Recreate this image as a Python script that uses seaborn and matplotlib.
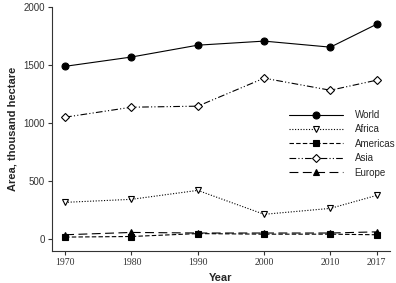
import matplotlib
matplotlib.use("Agg")
import matplotlib.pyplot as plt
import pandas as pd
import seaborn as sns

# data
years = [1970, 1980, 1990, 2000, 2010, 2017]
world = [1490, 1570, 1672, 1707, 1655, 1853]
africa = [319, 345, 422, 216, 267, 379]
americas = [20, 25, 50, 45, 45, 40]
asia = [1052, 1138, 1147, 1388, 1284, 1371]
europe = [40, 60, 55, 55, 55, 65]

series = {"World": world, "Africa": africa, "Americas": americas,
          "Asia": asia, "Europe": europe}
styles = {
    "World": dict(linestyle="-", marker="o", markerfacecolor="black"),
    "Africa": dict(linestyle=(0, (1, 1.5)), marker="v", markerfacecolor="white"),
    "Americas": dict(linestyle=(0, (4, 2)), marker="s", markerfacecolor="black"),
    "Asia": dict(linestyle=(0, (6, 2, 1, 2, 1, 2)), marker="D", markerfacecolor="white"),
    "Europe": dict(linestyle=(0, (8, 4)), marker="^", markerfacecolor="black"),
}

rows = []
for name, vals in series.items():
    for y, v in zip(years, vals):
        rows.append({"Year": y, "Area": v, "Region": name})
df = pd.DataFrame(rows)

sns.set_style("ticks")
fig = plt.figure(figsize=(3.96, 2.83), dpi=100)
ax = fig.add_axes([0.131, 0.113, 0.854, 0.862])

for name in series:
    st = styles[name]
    ms = 5 if st["marker"] != "D" else 4.2
    sns.lineplot(data=df[df["Region"] == name], x="Year", y="Area", ax=ax,
                 color="black", linewidth=0.8, label=name,
                 linestyle=st["linestyle"], marker=st["marker"],
                 markerfacecolor=st["markerfacecolor"], markeredgecolor="black",
                 markeredgewidth=0.8, markersize=ms)

ax.set_xlim(1968, 2019)
ax.set_ylim(-100, 2000)
ax.set_xticks(years)
ax.set_xticklabels([str(y) for y in years])
ax.set_yticks([0, 500, 1000, 1500, 2000])
ax.set_yticklabels(["0", "500", "1000", "1500", "2000"])
for t in ax.get_xticklabels():
    t.set_fontfamily("Liberation Serif")
    t.set_fontsize(7)
for t in ax.get_yticklabels():
    t.set_fontfamily("Liberation Sans")
    t.set_fontsize(7)
ax.tick_params(direction="out", length=3, width=0.8, colors="#333333", pad=2)
for s in ["left", "bottom"]:
    ax.spines[s].set_linewidth(0.8)
    ax.spines[s].set_color("#333333")
sns.despine(ax=ax)

ax.set_xlabel("Year", family="Liberation Sans", fontweight="bold", fontsize=8, labelpad=4)
ax.set_ylabel("Area, thousand hectare", family="Liberation Sans", fontweight="bold",
              fontsize=8, labelpad=4)

leg = ax.legend(loc="upper left", bbox_to_anchor=(0.730, 0.611),
                bbox_transform=fig.transFigure, frameon=False,
                borderpad=0, borderaxespad=0,
                handlelength=5.5, handletextpad=1.25, labelspacing=0.45,
                prop={"family": "Liberation Sans", "size": 7})

fig.savefig("out.png", dpi=100)
